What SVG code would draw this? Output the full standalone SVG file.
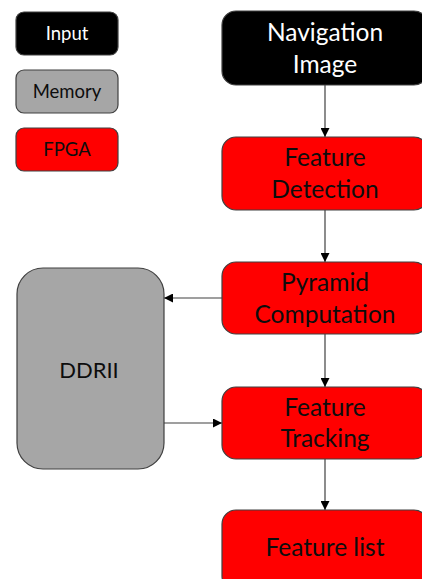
<svg xmlns="http://www.w3.org/2000/svg" width="422" height="579" viewBox="0 0 422 579">
  <style>
    .box { stroke: #404040; stroke-width: 1.2; }
    .input { fill: #000000; }
    .mem { fill: #a6a6a6; }
    .fpga { fill: #ff0000; }
    text { font-family: Lato, "Open Sans", "Liberation Sans", sans-serif; text-anchor: middle; dominant-baseline: central; }
    .lg { font-size: 18.5px; }
    .big { font-size: 24.5px; }
    .mid { font-size: 22px; }
    .light { fill: #ffffff; }
    .dark { fill: #0d0d0d; }
    .conn { stroke: #404040; stroke-width: 1.2; fill: none; marker-end: url(#arr); }
  </style>
  <defs>
    <marker id="arr" viewBox="0 0 10 10" refX="10" refY="5" markerWidth="9" markerHeight="9" markerUnits="userSpaceOnUse" orient="auto">
      <path d="M0,0 L10,5 L0,10 z" fill="#000000"/>
    </marker>
  </defs>

  <!-- legend -->
  <g id="legend-input">
    <rect class="box input" x="16" y="12" width="102" height="43" rx="8"/>
    <text class="lg light" x="67" y="33">Input</text>
  </g>
  <g id="legend-memory">
    <rect class="box mem" x="16" y="70" width="102" height="43" rx="8"/>
    <text class="lg dark" x="67" y="91">Memory</text>
  </g>
  <g id="legend-fpga">
    <rect class="box fpga" x="16" y="128" width="102" height="43" rx="8"/>
    <text class="lg dark" x="67" y="149">FPGA</text>
  </g>

  <!-- connectors -->
  <g id="connectors">
    <line class="conn" x1="325" y1="85" x2="325" y2="137"/>
    <line class="conn" x1="325" y1="210" x2="325" y2="262"/>
    <line class="conn" x1="222" y1="298" x2="164" y2="298"/>
    <line class="conn" x1="164" y1="423" x2="222" y2="423"/>
    <line class="conn" x1="325" y1="334" x2="325" y2="387"/>
    <line class="conn" x1="325" y1="459" x2="325" y2="510"/>
  </g>

  <!-- processing chain -->
  <g id="navigation-image">
    <rect class="box input" x="222" y="11" width="206" height="74" rx="14"/>
    <text class="big light" x="325" y="31.5">Navigation</text>
    <text class="big light" x="325" y="63.5">Image</text>
  </g>
  <g id="feature-detection">
    <rect class="box fpga" x="222" y="137" width="206" height="73" rx="14"/>
    <text class="big dark" x="325" y="156.5">Feature</text>
    <text class="big dark" x="325" y="188.5">Detection</text>
  </g>
  <g id="pyramid-computation">
    <rect class="box fpga" x="222" y="262" width="206" height="72" rx="14"/>
    <text class="big dark" x="325" y="281.5">Pyramid</text>
    <text class="big dark" x="325" y="313.5">Computation</text>
  </g>
  <g id="ddrii">
    <rect class="box mem" x="17" y="268" width="147" height="201" rx="26"/>
    <text class="mid dark" x="89" y="369.5">DDRII</text>
  </g>
  <g id="feature-tracking">
    <rect class="box fpga" x="222" y="387" width="206" height="72" rx="14"/>
    <text class="big dark" x="325" y="406.5">Feature</text>
    <text class="big dark" x="325" y="437.5">Tracking</text>
  </g>
  <g id="feature-list">
    <rect class="box fpga" x="222" y="510" width="206" height="80" rx="14"/>
    <text class="big dark" x="325" y="546.5">Feature list</text>
  </g>
</svg>
